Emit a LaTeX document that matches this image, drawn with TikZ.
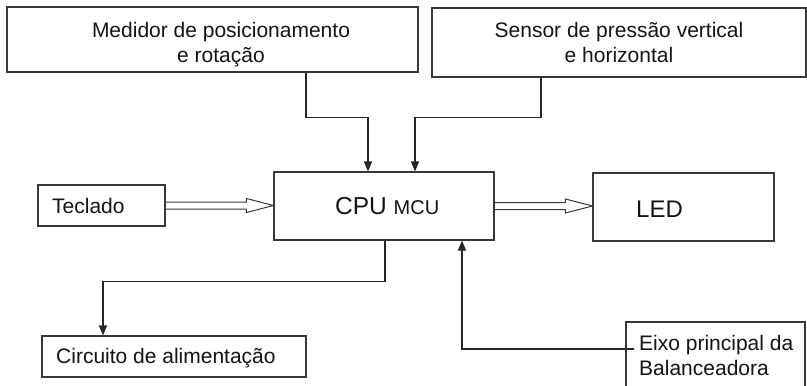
\documentclass[tikz,border=0pt]{standalone}
\usepackage{fontspec}
\setmainfont{Liberation Sans}
\usetikzlibrary{arrows.meta,calc}

\begin{document}
\begin{tikzpicture}[x=1pt,y=-1pt,
  box/.style={draw=black!78, line width=1.1pt, rectangle, inner sep=0pt},
  lbl/.style={inner sep=0pt, font=\fontsize{21}{25}\selectfont, text=black!92},
  link/.style={draw=black!85, line width=1.1pt, -{Triangle[width=8pt,length=10pt]}},
  bus/.style={draw=black!78, line width=1pt}]
\useasboundingbox (0,0) rectangle (807,386);
\clip (0,0) rectangle (807,386);

% blocks
\node[box, minimum width=411pt, minimum height=65pt] (med)  at (212.5,39.5) {};
\node[box, minimum width=374pt, minimum height=69pt] (sen)  at (619,42.5) {};
\node[box, minimum width=220pt, minimum height=68pt] (cpu)  at (384,206) {};
\node[box, minimum width=127pt, minimum height=41pt] (tec)  at (101.5,205.5) {};
\node[box, minimum width=181pt, minimum height=68pt] (led)  at (683.5,207) {};
\node[box, minimum width=264pt, minimum height=41pt] (circ) at (174,356.5) {};
\node[box, minimum width=179pt, minimum height=78pt] (eixo) at (715.5,361) {};

% labels (multi-line nodes sit on the baseline of their last line)
\node[lbl, align=center, anchor=base] (medtxt) at (221,62) {Medidor de posicionamento\\e rotação};
\node[lbl, align=center, anchor=base] (sentxt) at (619,62) {Sensor de pressão vertical\\e horizontal};
\node[lbl, anchor=base west] (tectxt) at (52,213) {Teclado};
\node[lbl, anchor=base west] (cputxt) at (335,214)
  {\fontsize{24.5}{28}\selectfont CPU \fontsize{20}{24}\selectfont MCU};
\node[lbl, anchor=base west, font=\fontsize{24}{28}\selectfont] (ledtxt) at (636,217) {LED};
\node[lbl, anchor=base west] (circtxt) at (56,363) {Circuito de alimentação};
\node[lbl, align=left, anchor=base west] (eixotxt) at (639,375) {Eixo principal da\\Balanceadora};

% signal lines
\draw[link] ([xshift=93.5pt]med.south) -- ++(0,45) -| ([xshift=-16pt]cpu.north);
\draw[link] ([xshift=-78pt]sen.south) -- ++(0,40) -| ([xshift=31pt]cpu.north);
\draw[link] ([xshift=1pt]cpu.south) -- ++(0,41) -| ([xshift=-71pt]circ.north);
\draw[link] ([xshift=9pt,yshift=12pt]eixo.west) -| ([xshift=78pt]cpu.south);

% hollow bus arrows
\newcommand\busarrow[2]{%
  \draw[bus] let \p1=(#1.east), \p2=(#2.west) in
    (\x1,\y1+3.5pt) -- (\x2-27pt,\y1+3.5pt) -- (\x2-27pt,\y1+7pt) -- (\x2,\y1)
    -- (\x2-27pt,\y1-7pt) -- (\x2-27pt,\y1-3.5pt) -- (\x1,\y1-3.5pt);}
\busarrow{tec}{cpu}
\busarrow{cpu}{led}
\end{tikzpicture}
\end{document}
